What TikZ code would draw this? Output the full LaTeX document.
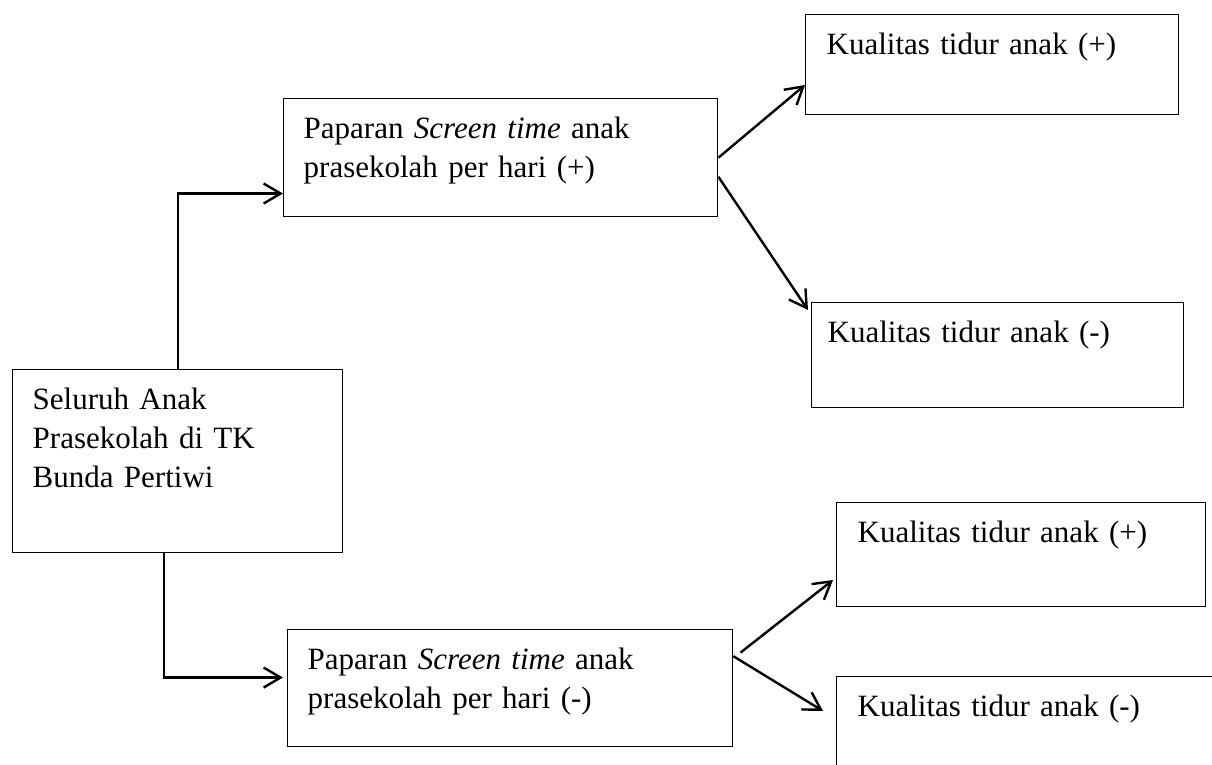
\documentclass[tikz,border=0pt]{standalone}
\usepackage{fontspec}
\setmainfont{Liberation Serif}
\usetikzlibrary{calc, arrows.meta}
\tikzset{>={Straight Barb[length=8.5pt,width=10pt]}}
\tikzset{
  kotak/.style={draw, line width=0.7pt, anchor=north west, inner xsep=10pt, inner ysep=0pt,
    align=left, text height=20pt, font=\fontsize{15.5pt}{19.5pt}\selectfont},
  panah/.style={->, line width=1.2pt}}

\begin{document}
\begin{tikzpicture}[x=0.5pt,y=-0.5pt]
\useasboundingbox (0,0) rectangle (1212,765);
% kotak
\node[kotak, text width=145pt, text depth=71.5pt] (seluruh) at (12,369) {Seluruh Anak\\Prasekolah di TK\\Bunda Pertiwi};
\node[kotak, text width=197pt, text depth=39pt] (papPlus) at (283,98) {Paparan \textit{Screen time} anak\\prasekolah per hari (+)};
\node[kotak, text width=202.5pt, text depth=38.5pt] (papMin) at (287,629) {Paparan \textit{Screen time} anak\\prasekolah per hari (-)};
\node[kotak, inner xsep=10.5pt, text width=165.5pt, text depth=30pt] (tidurA) at (805,14) {Kualitas tidur anak (+)};
\node[kotak, inner xsep=8pt, text width=170pt, text depth=32.5pt] (tidurB) at (811,302) {Kualitas tidur anak (-)};
\node[kotak, inner xsep=10.5pt, text width=163.5pt, text depth=32pt] (tidurC) at (836,502) {Kualitas tidur anak (+)};
\node[kotak, inner xsep=10.5pt, text width=169pt, text depth=33pt] (tidurD) at (836,676) {Kualitas tidur anak (-)};
% panah
\draw[panah] (seluruh.north) |- ($(papPlus.north west)!0.8!(papPlus.south west)$);
\draw[panah] ([xshift=-7pt]seluruh.south) |- ($(papMin.north west)!0.41!(papMin.south west)+(-2pt,0)$);
\draw[panah] (papPlus.east) -- ($(tidurA.north west)!0.7!(tidurA.south west)$);
\draw[panah] ($(papPlus.north east)!0.66!(papPlus.south east)$) -- ($(tidurB.north west)+(-1.5pt,-4pt)$);
\draw[panah] ($(papMin.north east)!0.2!(papMin.south east)+(3.5pt,0)$) -- ($(tidurC.north west)!0.74!(tidurC.south west)+(-1.5pt,0)$);
\draw[panah] ($(papMin.north east)!0.23!(papMin.south east)$) -- ($(tidurD.north west)+(-6.5pt,-17.5pt)$);
\end{tikzpicture}
\end{document}
